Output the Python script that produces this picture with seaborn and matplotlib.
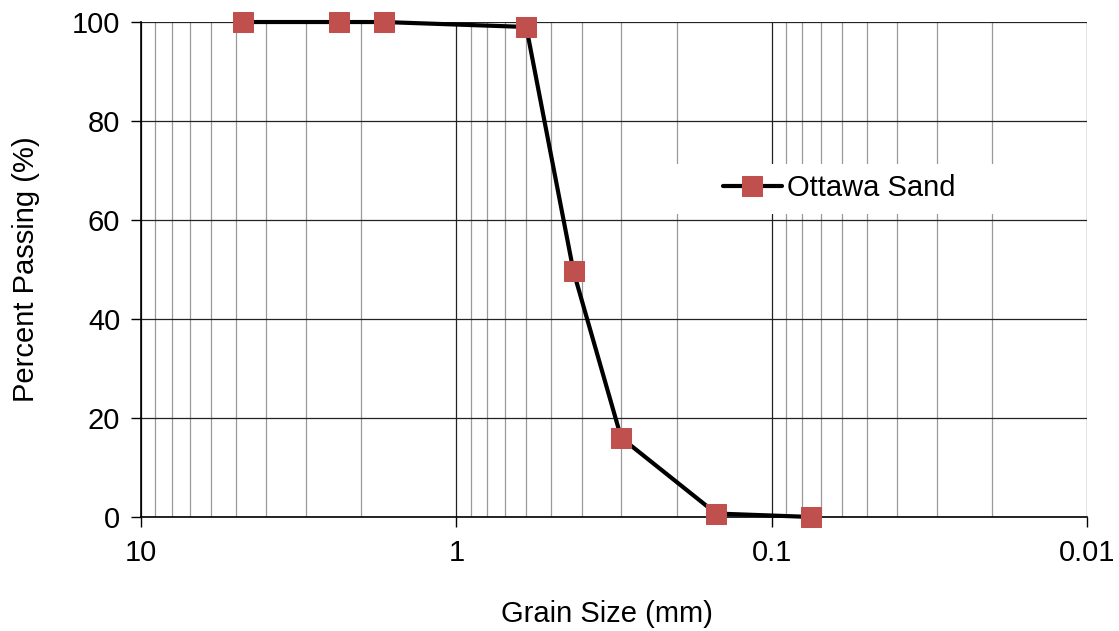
import matplotlib
matplotlib.use("Agg")
import matplotlib.pyplot as plt
import matplotlib.ticker as mticker
from matplotlib.patches import Rectangle
import seaborn as sns
import pandas as pd
import numpy as np

grain_size_mm = [4.75, 2.36, 1.70, 0.60, 0.425, 0.30, 0.15, 0.075]
percent_passing = [100.0, 100.0, 100.0, 99.0, 49.6, 16.0, 0.7, 0.0]
series_name = "Ottawa Sand"

df = pd.DataFrame({"size": grain_size_mm, "pass": percent_passing, "series": series_name})

sns.set_theme(style="white")
plt.rcParams['font.family'] = ['Liberation Sans', 'DejaVu Sans']
plt.rcParams['text.color'] = 'black'
plt.rcParams['axes.labelcolor'] = 'black'
plt.rcParams['xtick.color'] = 'black'
plt.rcParams['ytick.color'] = 'black'

FS = 21

fig = plt.figure(figsize=(11.19, 6.31), dpi=100)
ax = fig.add_axes([0.126, 0.1807, 0.8454, 0.7844])

sns.lineplot(data=df, x="size", y="pass", hue="series", palette=["black"],
             marker="s", markersize=14, markerfacecolor="#C0504D",
             markeredgecolor="#C0504D", linewidth=3.0, sort=False, ax=ax, zorder=5)
for ln in ax.lines:
    ln.set_clip_on(False)

ax.set_xscale("log")
ax.set_xlim(10, 0.01)
ax.set_ylim(0, 100)
ax.set_yticks([0, 20, 40, 60, 80, 100])
ax.xaxis.set_major_locator(mticker.FixedLocator([10, 1, 0.1, 0.01]))
ax.xaxis.set_major_formatter(mticker.FixedFormatter(["10", "1", "0.1", "0.01"]))
ax.xaxis.set_minor_locator(mticker.LogLocator(base=10, subs=np.arange(2, 10)))
ax.xaxis.set_minor_formatter(mticker.NullFormatter())

ax.grid(True, which="major", axis="both", color="#222222", linewidth=0.9)
ax.grid(True, which="minor", axis="x", color="#999999", linewidth=0.9)
ax.set_axisbelow(True)

for s in ["top", "right"]:
    ax.spines[s].set_visible(False)
for s in ["left", "bottom"]:
    ax.spines[s].set_color("black")
    ax.spines[s].set_linewidth(1.2)

ax.tick_params(axis="both", which="major", direction="out", length=7, width=1, color="black",
               labelsize=FS, bottom=True, left=True)
ax.tick_params(axis="y", which="major", pad=8)
ax.tick_params(axis="x", which="major", pad=9)
ax.tick_params(axis="x", which="minor", length=0)

ax.set_xlabel("Grain Size (mm)", fontsize=FS)
ax.set_ylabel("Percent Passing (%)", fontsize=FS)
ax.xaxis.set_label_coords(0.4926, -0.168)
ax.yaxis.set_label_coords(-0.107, 0.5)

# white backdrop behind legend (hides gridlines as in reference)
ax.add_patch(Rectangle((0.535, 0.612), 0.39, 0.101, transform=ax.transAxes,
                       facecolor="white", edgecolor="none", zorder=3))

leg = ax.legend(loc="center left", bbox_to_anchor=(0.60, 0.665), fontsize=FS, frameon=False,
                handlelength=2.0, handletextpad=0.2, borderpad=0.5, borderaxespad=0)
leg.set_title(None)
leg.set_zorder(10)

fig.savefig("out.png", dpi=100)
